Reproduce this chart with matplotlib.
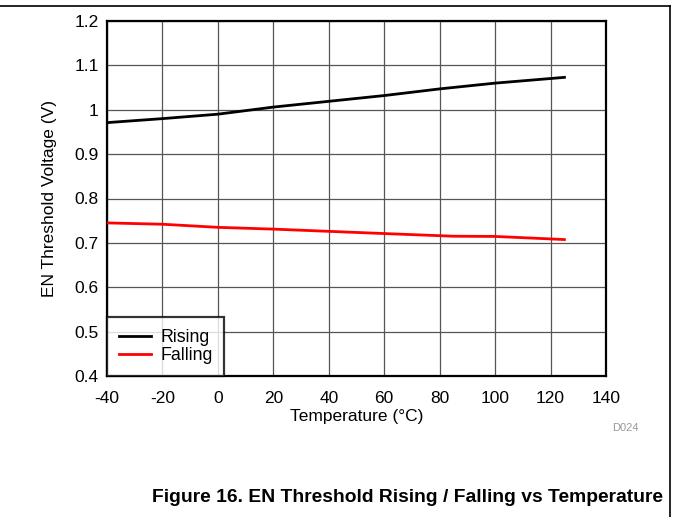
import matplotlib
matplotlib.use("Agg")
import matplotlib.pyplot as plt
from matplotlib.lines import Line2D

plt.rcParams['font.family'] = ['Liberation Sans', 'DejaVu Sans']
plt.rcParams['axes.unicode_minus'] = False

temps = [-40, -20, 0, 20, 40, 60, 80, 100, 125]
rising = [0.971, 0.980, 0.990, 1.006, 1.019, 1.032, 1.047, 1.060, 1.073]
falling_t = [-40, -20, 0, 20, 40, 60, 85, 100, 125]
falling = [0.745, 0.742, 0.735, 0.731, 0.726, 0.721, 0.715, 0.7145, 0.7075]
xticks = [-40, -20, 0, 20, 40, 60, 80, 100, 120, 140]
yticks = [0.4, 0.5, 0.6, 0.7, 0.8, 0.9, 1.0, 1.1, 1.2]
ytick_labels = ['0.4', '0.5', '0.6', '0.7', '0.8', '0.9', '1', '1.1', '1.2']

W, H = 673, 517
fig = plt.figure(figsize=(W/100, H/100), dpi=100)
ax = fig.add_axes([107/W, 1-376/H, (606-107)/W, (376-21)/H])

ax.plot(temps, rising, color='black', lw=2, label='Rising', zorder=3)
ax.plot(falling_t, falling, color='#ff0000', lw=2, label='Falling', zorder=3)

ax.set_xlim(-40, 140)
ax.set_ylim(0.4, 1.2)
ax.set_xticks(xticks)
ax.set_yticks(yticks)
ax.set_yticklabels(ytick_labels)
ax.tick_params(length=0, labelsize=12.5, colors='black')
ax.tick_params(axis='x', pad=11)
ax.tick_params(axis='y', pad=6)
ax.grid(True, color='#555555', lw=0.9)
for s in ax.spines.values():
    s.set_linewidth(1.6)
    s.set_color('black')

ax.set_xlabel('Temperature (°C)', fontsize=12.5)
ax.set_ylabel('EN Threshold Voltage (V)', fontsize=12.5)
ax.xaxis.set_label_coords((357-107)/499, -(417-376)/355)
ax.yaxis.set_label_coords((50-107)/499, 0.5)
ax.xaxis.label.set_va('center')
ax.yaxis.label.set_va('center')

leg = ax.legend(loc='lower left', fontsize=12.8, frameon=True, fancybox=False,
                borderaxespad=0, handlelength=1.8, borderpad=0.65, labelspacing=0.08,
                handletextpad=0.55)
leg.get_frame().set_edgecolor('black')
leg.get_frame().set_linewidth(1.6)

fig.text(612/W, 1-428/H, 'D024', fontsize=8, color='#999999', ha='left', va='center')
fig.text(663/W, 1-497/H, 'Figure 16. EN Threshold Rising / Falling vs Temperature',
         fontsize=13.9, fontweight='bold', ha='right', va='center')

fig.add_artist(Line2D([0, 670/W], [1-6/H, 1-6/H], color='black', lw=1.2, transform=fig.transFigure))
fig.add_artist(Line2D([670/W, 670/W], [1-6/H, 0], color='black', lw=1.2, transform=fig.transFigure))

fig.savefig('out.png', dpi=100)
